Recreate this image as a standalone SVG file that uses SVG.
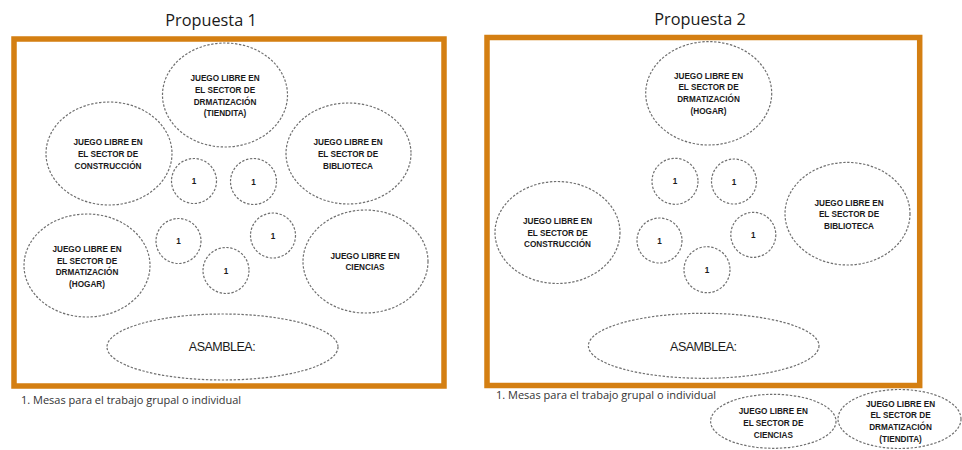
<svg xmlns="http://www.w3.org/2000/svg" width="962" height="450" viewBox="0 0 962 450">
<style>
.frame{fill:none;stroke:#D47F12;stroke-width:5.5}
.zone{fill:#fff;stroke:#6f6f6f;stroke-width:1.2;stroke-dasharray:2.4 1.6}
.lbl{font-family:"Liberation Sans",Arial,sans-serif;font-weight:bold;font-size:8.2px;fill:#1a1a1a;text-anchor:middle}
.title{font-family:"Open Sans","Noto Sans",sans-serif;font-size:16.3px;fill:#1a1a1a;text-anchor:middle}
.asm{font-family:"Liberation Sans",Arial,sans-serif;font-size:12.5px;fill:#1a1a1a;text-anchor:middle;letter-spacing:-0.5px}
.note{font-family:"Open Sans","Noto Sans",sans-serif;font-size:11px;fill:#333}
</style>
<rect width="962" height="450" fill="#fff"/>

<!-- Propuesta 1 -->
<g id="p1">
<text class="title" x="211" y="26">Propuesta 1</text>
<rect class="frame" x="14" y="39" width="430" height="347"/>
<text class="note" x="21" y="404">1. Mesas para el trabajo grupal o individual</text>
</g>
<g id="p1-tiendita"><ellipse class="zone" cx="225" cy="95" rx="62.5" ry="52"/>
<text class="lbl" x="225" y="81">JUEGO LIBRE EN</text><text class="lbl" x="225" y="93">EL SECTOR DE</text><text class="lbl" x="225" y="104.5">DRMATIZACIÓN</text><text class="lbl" x="225" y="116">(TIENDITA)</text></g>
<g id="p1-construccion"><ellipse class="zone" cx="109" cy="153.5" rx="63" ry="51.5"/>
<text class="lbl" x="108" y="145">JUEGO LIBRE EN</text><text class="lbl" x="108" y="157">EL SECTOR DE</text><text class="lbl" x="108" y="168.5">CONSTRUCCIÓN</text></g>
<g id="p1-biblioteca"><ellipse class="zone" cx="348.5" cy="153.5" rx="62.5" ry="50.5"/>
<text class="lbl" x="348" y="145">JUEGO LIBRE EN</text><text class="lbl" x="348" y="157">EL SECTOR DE</text><text class="lbl" x="348" y="168.5">BIBLIOTECA</text></g>
<g id="p1-hogar"><ellipse class="zone" cx="87" cy="265.5" rx="63" ry="51.5"/>
<text class="lbl" x="87" y="252">JUEGO LIBRE EN</text><text class="lbl" x="87" y="263.5">EL SECTOR DE</text><text class="lbl" x="87" y="275">DRMATIZACIÓN</text><text class="lbl" x="87" y="287">(HOGAR)</text></g>
<g id="p1-ciencias"><ellipse class="zone" cx="365.5" cy="261.5" rx="62.5" ry="51.5"/>
<text class="lbl" x="365" y="258.5">JUEGO LIBRE EN</text><text class="lbl" x="365" y="270">CIENCIAS</text></g>
<g id="p1-m1"><circle class="zone" cx="194" cy="181" r="22.5"/><text class="lbl" x="194" y="184">1</text></g>
<g id="p1-m2"><circle class="zone" cx="253.5" cy="181.5" r="23"/><text class="lbl" x="253.5" y="184.5">1</text></g>
<g id="p1-m3"><circle class="zone" cx="178.5" cy="241" r="22.5"/><text class="lbl" x="178.5" y="244">1</text></g>
<g id="p1-m4"><circle class="zone" cx="273" cy="235.5" r="22.5"/><text class="lbl" x="273" y="238.5">1</text></g>
<g id="p1-m5"><circle class="zone" cx="226" cy="270.5" r="23"/><text class="lbl" x="226" y="273.5">1</text></g>
<g id="p1-asamblea"><ellipse class="zone" cx="222.5" cy="347" rx="115.5" ry="33"/>
<text class="asm" x="222" y="351">ASAMBLEA:</text></g>

<!-- Propuesta 2 -->
<g id="p2">
<text class="title" x="700" y="25">Propuesta 2</text>
<rect class="frame" x="487" y="37.5" width="432.7" height="348"/>
<text class="note" x="496" y="399">1. Mesas para el trabajo grupal o individual</text>
</g>
<g id="p2-hogar"><ellipse class="zone" cx="708.7" cy="93.3" rx="63" ry="51.7"/>
<text class="lbl" x="708.5" y="78.5">JUEGO LIBRE EN</text><text class="lbl" x="708.5" y="90">EL SECTOR DE</text><text class="lbl" x="708.5" y="102">DRMATIZACIÓN</text><text class="lbl" x="708.5" y="114">(HOGAR)</text></g>
<g id="p2-biblioteca"><ellipse class="zone" cx="847.5" cy="213.7" rx="62.5" ry="51.3"/>
<text class="lbl" x="849" y="205.5">JUEGO LIBRE EN</text><text class="lbl" x="849" y="217">EL SECTOR DE</text><text class="lbl" x="849" y="228.5">BIBLIOTECA</text></g>
<g id="p2-construccion"><ellipse class="zone" cx="557.5" cy="232.5" rx="62.5" ry="51"/>
<text class="lbl" x="557.5" y="224">JUEGO LIBRE EN</text><text class="lbl" x="557.5" y="235.7">EL SECTOR DE</text><text class="lbl" x="557.5" y="247">CONSTRUCCIÓN</text></g>
<g id="p2-m1"><circle class="zone" cx="675" cy="181.3" r="23"/><text class="lbl" x="675" y="184.3">1</text></g>
<g id="p2-m2"><circle class="zone" cx="734" cy="181.5" r="22.5"/><text class="lbl" x="734" y="184.5">1</text></g>
<g id="p2-m3"><circle class="zone" cx="659.5" cy="240.5" r="22.5"/><text class="lbl" x="659.5" y="243.5">1</text></g>
<g id="p2-m4"><circle class="zone" cx="753.3" cy="234.8" r="22.5"/><text class="lbl" x="753.3" y="237.8">1</text></g>
<g id="p2-m5"><circle class="zone" cx="707" cy="269.7" r="23"/><text class="lbl" x="707" y="272.7">1</text></g>
<g id="p2-asamblea"><ellipse class="zone" cx="703.7" cy="345.8" rx="115.3" ry="32.5"/>
<text class="asm" x="703.3" y="350.7">ASAMBLEA:</text></g>

<!-- outside -->
<g id="out-ciencias"><ellipse class="zone" cx="773.3" cy="421.3" rx="62.7" ry="27"/>
<text class="lbl" x="773.3" y="414.3">JUEGO LIBRE EN</text><text class="lbl" x="773.3" y="426">EL SECTOR DE</text><text class="lbl" x="773.3" y="437.7">CIENCIAS</text></g>
<g id="out-tiendita"><ellipse class="zone" cx="899.5" cy="419" rx="61.5" ry="29.5"/>
<text class="lbl" x="900.5" y="406.7">JUEGO LIBRE EN</text><text class="lbl" x="900.5" y="418.3">EL SECTOR DE</text><text class="lbl" x="900.5" y="430">DRMATIZACIÓN</text><text class="lbl" x="900.5" y="441.7">(TIENDITA)</text></g>

<g id="connectors"></g>
</svg>
